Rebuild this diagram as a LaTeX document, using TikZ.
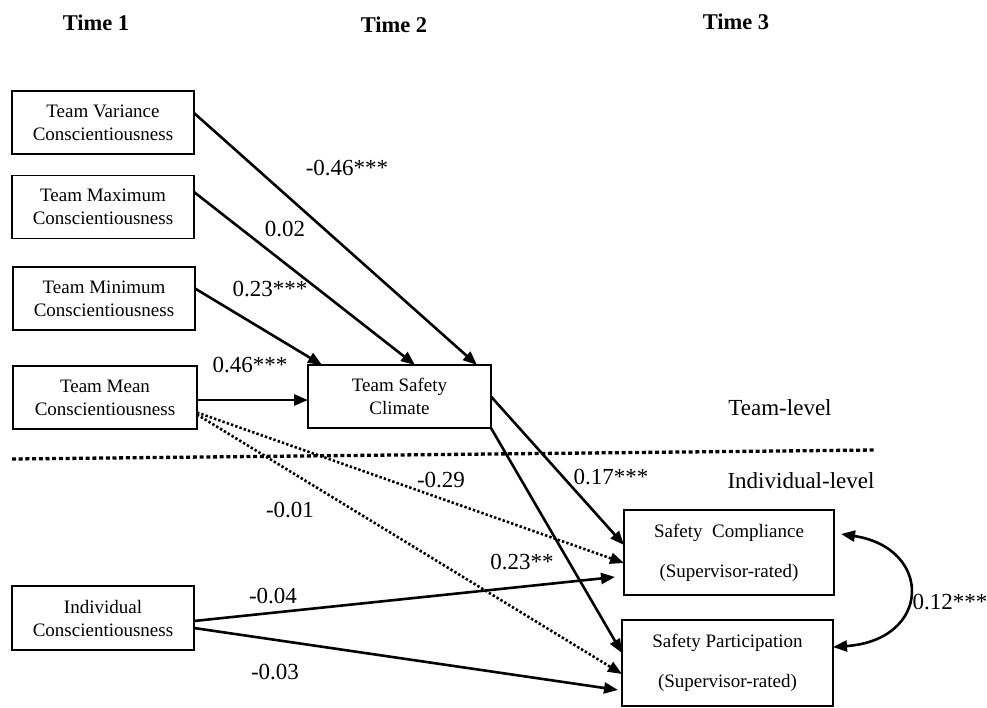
\documentclass[tikz,border=0pt]{standalone}
\usepackage{fontspec}
\setmainfont{Liberation Serif}
\usetikzlibrary{arrows.meta,positioning}

\begin{document}
\begin{tikzpicture}[x=1pt,y=-1pt,
        BoxCfg/.style={
            draw, line width=1.6pt,
            inner sep=0pt, outer sep=0pt,
            align=center,
            font=\fontsize{19}{23}\selectfont,
            minimum width=182pt, minimum height=63pt
        },
        TallBoxCfg/.style={
            BoxCfg,
            font=\fontsize{19}{40}\selectfont,
            minimum width=211pt, minimum height=86pt
        },
        ArrowCfg/.style={line width=2.6pt, -{Triangle[length=14pt,width=11pt]}},
        DotArrowCfg/.style={ArrowCfg, line width=2.6pt, dash pattern=on 2.4pt off 2.1pt},
        SepCfg/.style={line width=3.3pt, dash pattern=on 4pt off 2.7pt},
        LabelCfg/.style={font=\fontsize{23}{27}\selectfont, inner sep=0pt},
        TitleCfg/.style={font=\bfseries\fontsize{22.5}{27}\selectfont, inner sep=0pt}
    ]
    \useasboundingbox (0,0) rectangle (987,708);
    
    % time headings
    \node[TitleCfg] (time1) at (96,23) {Time 1};
    \node[TitleCfg] (time2) at (394,25) {Time 2};
    \node[TitleCfg] (time3) at (736,22) {Time 3};
    
    % team level boxes
    \node[BoxCfg] (var) at (103,122.5) {Team Variance\\Conscientiousness};
    \node[BoxCfg] (max) at (103,207) {Team Maximum\\Conscientiousness};
    \node[BoxCfg] (min) at (104,298.5) {Team Minimum\\Conscientiousness};
    \node[BoxCfg,minimum width=184pt] (mean) at (105,397.5) {Team Mean\\Conscientiousness};
    \node[BoxCfg,minimum width=183pt] (tsc) at (399.5,396.5) {Team Safety\\Climate};
    
    % individual level boxes
    \node[BoxCfg,minimum height=64pt] (ind) at (103,618) {Individual\\Conscientiousness};
    \node[TallBoxCfg,minimum width=210pt,minimum height=85pt] (comp) at (729,552.5) {Safety\ \ Compliance\\(Supervisor-rated)};
    \node[TallBoxCfg] (part) at (727.5,663) {Safety Participation\\(Supervisor-rated)};
    
    % level split
    \coordinate (sepL) at (12,459);
    \coordinate (sepR) at (875,450);
    \draw[SepCfg] (sepL)--(sepR);
    \node[LabelCfg] (teamlvl) at (780,408) {Team-level};
    \node[LabelCfg] (indlvl) at (801,481) {Individual-level};
    
    % paths into team safety climate
    \draw[ArrowCfg] ([yshift=9.5pt]var.east)--([xshift=77.5pt]tsc.north);
    \draw[ArrowCfg] ([yshift=15pt]max.east)--([xshift=15.5pt]tsc.north);
    \draw[ArrowCfg] ([yshift=10pt]min.east)--([xshift=-77.5pt]tsc.north);
    \draw[ArrowCfg] ([yshift=-2.5pt]mean.east)--([yshift=-3.5pt]tsc.west);
    \node[LabelCfg] (lvar) at (347,168) {-0.46***};
    \node[LabelCfg] (lmax) at (285,229) {0.02};
    \node[LabelCfg] (lmin) at (270,289) {0.23***};
    \node[LabelCfg] (lmean) at (250,365) {0.46***};
    
    % paths into safety outcomes
    \draw[ArrowCfg] (tsc.east)--([yshift=7.5pt]comp.west);
    \draw[ArrowCfg] (tsc.south east)--([yshift=10pt]part.west);
    \draw[DotArrowCfg] ([yshift=-15pt]mean.east)--([yshift=-10.5pt]comp.west);
    \draw[DotArrowCfg] ([yshift=-17pt]mean.east)--([yshift=-11pt]part.west);
    \draw[ArrowCfg] ([yshift=-3pt]ind.east)--([xshift=-9pt,yshift=-24.5pt]comp.west);
    \draw[ArrowCfg] ([yshift=-10pt]ind.east)--([xshift=-4pt,yshift=-27pt]part.west);
    \node[LabelCfg] (ltsccomp) at (611,477) {0.17***};
    \node[LabelCfg] (ltscpart) at (522,562) {0.23**};
    \node[LabelCfg] (lmeancomp) at (441,480) {-0.29};
    \node[LabelCfg] (lmeanpart) at (290,510) {-0.01};
    \node[LabelCfg] (lindcomp) at (273,596) {-0.04};
    \node[LabelCfg] (lindpart) at (275,672) {-0.03};
    
    % residual covariance
    \draw[line width=2.6pt,{Triangle[length=14pt,width=11pt]}-{Triangle[length=14pt,width=11pt]}]
        ([xshift=7pt,yshift=18.5pt]comp.east) .. controls +(92,14) and +(99,-7) .. ([yshift=16pt]part.east);
    \node[LabelCfg] (lcov) at (950,602) {0.12***};
    
\end{tikzpicture}
\end{document}
